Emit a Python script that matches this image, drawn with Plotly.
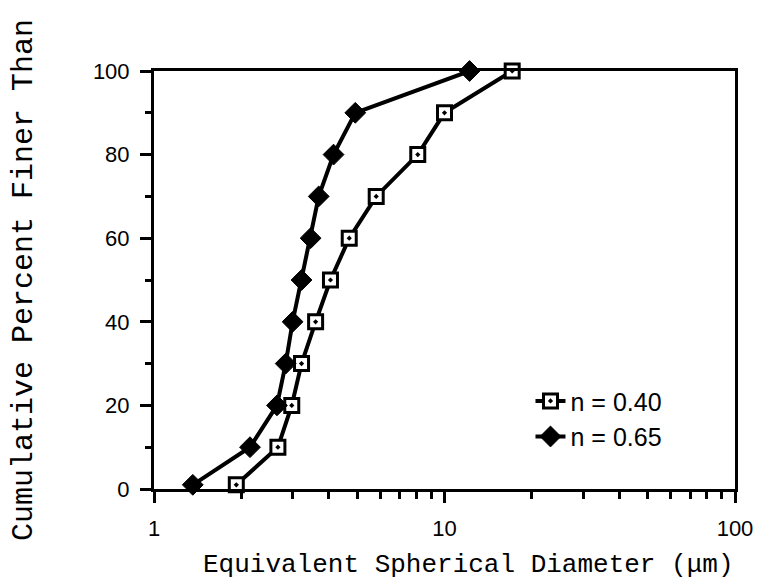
import plotly.graph_objects as go

# Cumulative percent finer than (y) vs equivalent spherical diameter (x, um)
pct_finer = [1, 10, 20, 30, 40, 50, 60, 70, 80, 90, 100]
diam_n040 = [1.92, 2.67, 2.98, 3.22, 3.60, 4.05, 4.70, 5.82, 8.09, 10.0, 17.1]
diam_n065 = [1.36, 2.14, 2.65, 2.84, 3.00, 3.22, 3.46, 3.69, 4.15, 4.93, 12.2]

series_names = ["n = 0.40", "n = 0.65"]

x_ticks = [1, 10, 100]
x_tick_text = ["1", "10", "100"]
x_minor = [2, 3, 4, 5, 6, 7, 8, 9, 20, 30, 40, 50, 60, 70, 80, 90]
y_ticks = [0, 20, 40, 60, 80, 100]

x_title = "Equivalent Spherical Diameter (\u03bcm)"
y_title = "Cumulative Percent Finer Than"

SANS = "Liberation Sans, Arial"
MONO = "Liberation Mono, Courier New"

fig = go.Figure()
fig.add_trace(go.Scatter(
    x=diam_n040, y=pct_finer, name=series_names[0], mode="lines+markers",
    line=dict(color="black", width=4),
    marker=dict(symbol="square-dot", size=14, color="white",
                line=dict(color="black", width=3)),
    cliponaxis=False,
))
fig.add_trace(go.Scatter(
    x=diam_n065, y=pct_finer, name=series_names[1], mode="lines+markers",
    line=dict(color="black", width=4),
    marker=dict(symbol="diamond", size=16, color="black",
                line=dict(color="black", width=1)),
    cliponaxis=False,
))

# x-axis title sits right of the plot centre
fig.add_annotation(
    text=x_title, xref="paper", yref="paper", x=0.541, y=-0.182,
    xanchor="center", yanchor="middle", showarrow=False,
    font=dict(family=MONO, size=26, color="black"),
)

fig.update_layout(
    width=765, height=584,
    margin=dict(l=154, r=25, t=71, b=95),
    paper_bgcolor="white", plot_bgcolor="white",
    showlegend=True,
    legend=dict(x=0.648, y=0.265, xanchor="left", yanchor="top",
                bgcolor="rgba(0,0,0,0)",
                font=dict(family=SANS, size=25, color="black"),
                tracegroupgap=0),
    xaxis=dict(
        type="log", range=[0, 2],
        tickmode="array", tickvals=x_ticks, ticktext=x_tick_text,
        ticks="outside", ticklen=11, tickwidth=2.5, tickcolor="black",
        ticklabelstandoff=7,
        minor=dict(tickmode="array", tickvals=x_minor, ticks="outside",
                   ticklen=7, tickwidth=2.5, tickcolor="black", showgrid=False),
        showline=True, linewidth=3, linecolor="black", mirror=True,
        showgrid=False, zeroline=False,
        tickfont=dict(family=SANS, size=22, color="black"),
    ),
    yaxis=dict(
        range=[0, 100],
        tickmode="array", tickvals=y_ticks,
        ticks="outside", ticklen=11, tickwidth=2.5, tickcolor="black",
        ticklabelstandoff=6,
        minor=dict(dtick=10, ticks="outside", ticklen=6, tickwidth=2.5,
                   tickcolor="black", showgrid=False),
        showline=True, linewidth=3, linecolor="black", mirror=True,
        showgrid=False, zeroline=False,
        tickfont=dict(family=SANS, size=22, color="black"),
        title=dict(text=y_title,
                   font=dict(family=MONO, size=30, color="black"),
                   standoff=52),
    ),
)

fig.write_html("out.html")
